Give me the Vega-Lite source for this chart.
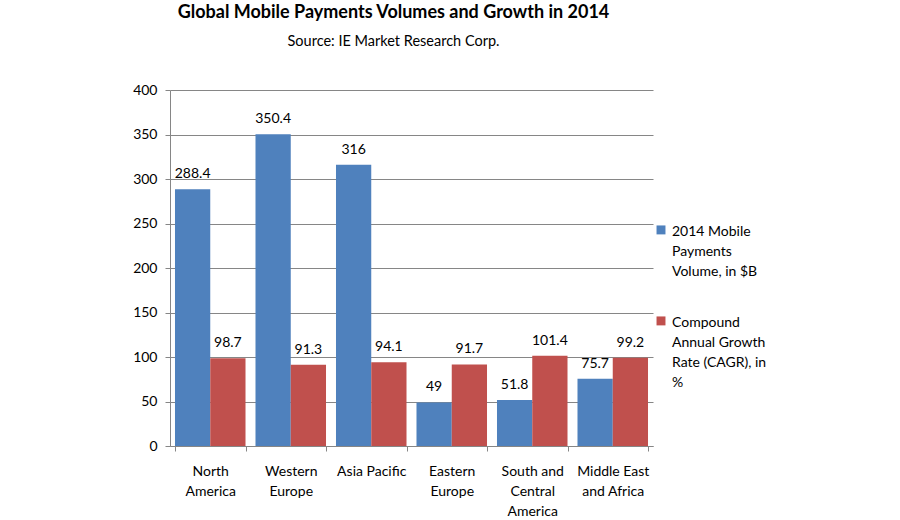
{
  "$schema": "https://vega.github.io/schema/vega-lite/v6.json",
  "autosize": "none",
  "width": 483,
  "height": 356,
  "padding": {"left": 170, "top": 90, "right": 247, "bottom": 74},
  "background": "white",
  "config": {
    "font": "Lato",
    "view": {"stroke": null},
    "style": {"guide-label": {"lineHeight": 20}},
    "axis": {"labelFont": "Lato", "labelFontSize": 14, "labelColor": "#000000"}
  },
  "title": {
    "text": "Global Mobile Payments Volumes and Growth in 2014",
    "subtitle": "Source: IE Market Research Corp.",
    "font": "Lato",
    "fontSize": 18,
    "fontWeight": "bold",
    "color": "#000000",
    "subtitleFont": "Lato",
    "subtitleFontSize": 14.5,
    "subtitleColor": "#000000",
    "subtitlePadding": 13,
    "anchor": "middle",
    "dx": -18,
    "offset": 35
  },
  "data": {
    "values": [
      {"region": "North America", "series": "2014 Mobile Payments Volume, in $B", "value": 288.4},
      {"region": "North America", "series": "Compound Annual Growth Rate (CAGR), in %", "value": 98.7},
      {"region": "Western Europe", "series": "2014 Mobile Payments Volume, in $B", "value": 350.4},
      {"region": "Western Europe", "series": "Compound Annual Growth Rate (CAGR), in %", "value": 91.3},
      {"region": "Asia Pacific", "series": "2014 Mobile Payments Volume, in $B", "value": 316},
      {"region": "Asia Pacific", "series": "Compound Annual Growth Rate (CAGR), in %", "value": 94.1},
      {"region": "Eastern Europe", "series": "2014 Mobile Payments Volume, in $B", "value": 49},
      {"region": "Eastern Europe", "series": "Compound Annual Growth Rate (CAGR), in %", "value": 91.7},
      {"region": "South and Central America", "series": "2014 Mobile Payments Volume, in $B", "value": 51.8},
      {"region": "South and Central America", "series": "Compound Annual Growth Rate (CAGR), in %", "value": 101.4},
      {"region": "Middle East and Africa", "series": "2014 Mobile Payments Volume, in $B", "value": 75.7},
      {"region": "Middle East and Africa", "series": "Compound Annual Growth Rate (CAGR), in %", "value": 99.2}
    ]
  },
  "encoding": {
    "x": {
      "field": "region",
      "type": "nominal",
      "sort": null,
      "scale": {"paddingInner": 0.124, "paddingOuter": 0.062},
      "axis": {
        "title": null,
        "labelAngle": 0,
        "domainColor": "#868686",
        "tickColor": "#868686",
        "tickSize": 5,
        "tickBand": "extent",
        "labelPadding": 13,
        "labelLineHeight": 20,
        "labelBaseline": "top",
        "labelLimit": 0,
        "labelExpr": "datum.value == 'North America' ? ['North','America'] : datum.value == 'Western Europe' ? ['Western','Europe'] : datum.value == 'Eastern Europe' ? ['Eastern','Europe'] : datum.value == 'South and Central America' ? ['South and','Central','America'] : datum.value == 'Middle East and Africa' ? ['Middle East','and Africa'] : datum.value"
      }
    },
    "xOffset": {"field": "series", "type": "nominal", "scale": {"paddingInner": 0, "paddingOuter": 0}},
    "y": {
      "field": "value",
      "type": "quantitative",
      "scale": {"domain": [0, 400]},
      "axis": {
        "title": null,
        "values": [0, 50, 100, 150, 200, 250, 300, 350, 400],
        "gridColor": "#868686",
        "domainColor": "#868686",
        "tickColor": "#868686",
        "tickSize": 5,
        "labelPadding": 8
      }
    }
  },
  "layer": [
    {
      "mark": {"type": "bar"},
      "encoding": {
        "color": {
          "field": "series",
          "type": "nominal",
          "scale": {"range": ["#4F81BD", "#C0504D"]},
          "legend": {
            "title": null,
            "orient": "none",
            "legendX": 484,
            "legendY": 128,
            "symbolType": "M-1,0.1H1V2.1H-1Z",
            "symbolSize": 80,
            "symbolStrokeWidth": 0,
            "labelFont": "Lato",
            "labelFontSize": 14,
            "labelColor": "#000000",
            "labelLimit": 0,
            "labelBaseline": "top",
            "labelOffset": 4,
            "rowPadding": 30,
            "labelExpr": "datum.label == '2014 Mobile Payments Volume, in $B' ? ['2014 Mobile','Payments','Volume, in $B'] : ['Compound','Annual Growth','Rate (CAGR), in','%']"
          }
        }
      }
    },
    {
      "mark": {"type": "text", "baseline": "bottom", "dy": -8, "fontSize": 14, "font": "Lato", "color": "#000000"},
      "encoding": {"text": {"field": "value", "type": "quantitative"}}
    }
  ]
}
